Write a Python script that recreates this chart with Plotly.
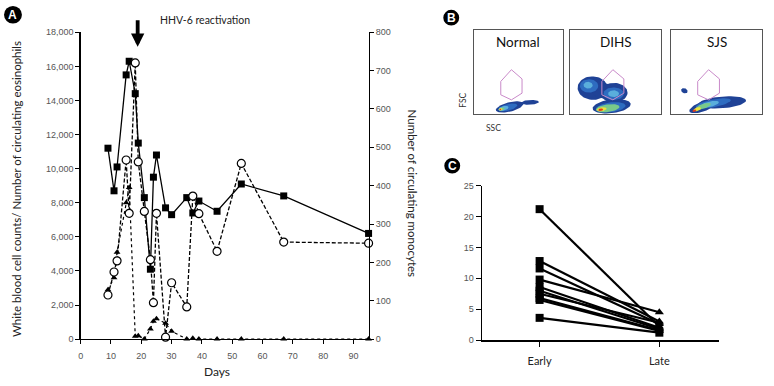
import numpy as np
import plotly.graph_objects as go

W, H = 774, 386

def px(x):
    return x / W

def py(y):
    return 1 - y / H

# ---------------- Panel A data ----------------
days = [9, 11, 12, 15, 16, 18, 19, 21, 23, 24, 25, 28, 30, 35, 37, 39, 45, 53, 67, 95]
wbc = [11200, 8700, 10100, 15500, 16300, 14400, 11500, 8300, 4100, 9500, 10800,
       7700, 7300, 8300, 7400, 8100, 7500, 9100, 8400, 6200]
eosinophils = [2900, 3600, 5100, 8000, 8900, 170, 200, 0, 600, 1050, 1200,
               930, 460, 0, 50, 0, 0, 0, 0, 0]
monocytes = [115, 175, 204, 467, 328, 720, 462, 333, 207, 95, 328,
             5, 147, 84, 373, 327, 229, 458, 253, 250]
x_ticks = list(range(0, 100, 10))
left_ticks = list(range(0, 18001, 2000))
right_ticks = list(range(0, 801, 100))
hhv6_day = 18.8

# ---------------- Panel C data ----------------
c_categories = ["Early", "Late"]
c_early = [21.2, 12.8, 11.6, 9.8, 8.6, 8.0, 7.5, 6.8, 6.5, 3.6]
c_late = [2.2, 3.0, 2.6, 4.5, 2.0, 1.8, 2.8, 1.6, 1.5, 1.2]
c_ticks = [0, 5, 10, 15, 20, 25]

# ---------------- Panel B (flow cytometry density sketches) ----------------
b_titles = ["Normal", "DIHS", "SJS"]
# density layers: (center SSC, center FSC, half-width, half-height, tilt deg, level)
b_density = [
    [(40, 8.5, 16, 5.5, 15, 0), (63, 14, 10, 2.8, 3, 0), (38, 8, 11, 3.8, 15, 1),
     (33, 6.8, 6, 2.6, 15, 2), (31, 6, 3.5, 1.8, 10, 3), (30, 5.7, 2.2, 1.3, 10, 4),
     (29.5, 5.5, 1.2, 0.9, 0, 5)],
    [(25, 31, 16.5, 14, -5, 0), (48, 25.6, 15, 11.6, 0, 0), (45.7, 9.3, 21, 8.1, 8, 0),
     (36, 28, 12, 9, 0, 0),
     (21, 33.7, 10, 8, 0, 1), (20, 34.5, 5, 4, 0, 2),
     (47.8, 24.4, 11, 7.5, 0, 1), (47.8, 24.4, 6, 4, 0, 2),
     (44.6, 8.1, 16.3, 5.8, 8, 1), (41.3, 7, 13, 4.6, 8, 3),
     (34.8, 5.8, 5.4, 2.3, 8, 4), (33.7, 5.2, 2.7, 1.5, 8, 5)],
    [(14.3, 27.9, 3.8, 2.9, -30, 0), (56, 14, 26.4, 7, 5, 0), (35.2, 9.3, 16.5, 5.8, 22, 0),
     (46.2, 12.8, 19.8, 4.6, 12, 1), (41.8, 11.6, 11, 3.2, 15, 2),
     (35.2, 9.3, 8.8, 2.9, 20, 3), (28.6, 5.8, 4.4, 2.1, 20, 4), (25.3, 4.1, 2.2, 1.4, 20, 5)],
]
gate_ssc = [42, 54, 54, 42, 30, 30, 42]
gate_fsc = [53, 42, 25, 17, 23, 39, 53]
gate_shift = [0, 5, -1]

density_colors = ["#1f4296", "#2e6cc0", "#5aaedc", "#79c98a", "#e9e23e", "#e23a1e"]

TICK_FONT = dict(family="Liberation Sans, Arial, sans-serif", size=9, color="#555555")
TITLE_FONT = dict(family="Lato, Open Sans, sans-serif", size=11.5, color="#222222")

fig = go.Figure()

# Panel A traces
fig.add_trace(go.Scatter(
    x=days, y=eosinophils, mode="lines+markers", xaxis="x", yaxis="y",
    line=dict(color="black", width=1.2, dash="dot"),
    marker=dict(symbol="triangle-up", size=6, color="black"),
    cliponaxis=False, showlegend=False))
fig.add_trace(go.Scatter(
    x=days, y=wbc, mode="lines+markers", xaxis="x", yaxis="y",
    line=dict(color="black", width=1.3),
    marker=dict(symbol="square", size=7, color="black"),
    cliponaxis=False, showlegend=False))
fig.add_trace(go.Scatter(
    x=days, y=monocytes, mode="lines+markers", xaxis="x", yaxis="y2",
    line=dict(color="black", width=1.3, dash="4px,2px"),
    marker=dict(symbol="circle", size=8, color="white", line=dict(color="black", width=1.2)),
    cliponaxis=False, showlegend=False))

# Panel C traces
for e, l in zip(c_early, c_late):
    fig.add_trace(go.Scatter(
        x=[0, 1], y=[e, l], mode="lines+markers", xaxis="x3", yaxis="y3",
        line=dict(color="black", width=2.2),
        marker=dict(symbol=["square", "triangle-up" if l > 1.3 else "square"], size=8, color="black"),
        cliponaxis=False, showlegend=False))

# Panel B traces
def ellipse(cx, cy, rx, ry, ang, n=60):
    t = np.linspace(0, 2 * np.pi, n)
    a = np.deg2rad(ang)
    x = cx + rx * np.cos(t) * np.cos(a) - ry * np.sin(t) * np.sin(a)
    y = cy + rx * np.cos(t) * np.sin(a) + ry * np.sin(t) * np.cos(a)
    return x, y

for i, layers in enumerate(b_density):
    xa, ya = f"x{4 + i}", f"y{4 + i}"
    for (cx, cy, rx, ry, ang, lev) in sorted(layers, key=lambda t: t[5]):
        ex, ey = ellipse(cx, cy, rx, ry, ang)
        fig.add_trace(go.Scatter(
            x=ex, y=ey, mode="lines", fill="toself", xaxis=xa, yaxis=ya,
            line=dict(width=0, color=density_colors[lev]),
            fillcolor=density_colors[lev], hoverinfo="skip", showlegend=False))
    fig.add_trace(go.Scatter(
        x=[g + gate_shift[i] for g in gate_ssc], y=gate_fsc, mode="lines",
        xaxis=xa, yaxis=ya, line=dict(color="#c98ac9", width=1),
        hoverinfo="skip", showlegend=False))

layout = dict(
    width=W, height=H, margin=dict(l=0, r=0, t=0, b=0),
    paper_bgcolor="white", plot_bgcolor="rgba(0,0,0,0)",
    xaxis=dict(domain=[px(78), px(367)], range=[0, 95], tickvals=x_ticks,
               ticks="outside", ticklen=4, tickcolor="black", showline=True,
               linecolor="black", linewidth=1.3, showgrid=False, zeroline=False,
               anchor="y", tickfont=TICK_FONT, ticklabelstandoff=4),
    yaxis=dict(domain=[py(343), py(28)], range=[0, 18000], tickvals=left_ticks,
               tickformat=",", ticks="outside", ticklen=4, tickcolor="black",
               showline=True, linecolor="black", linewidth=1.3, showgrid=False,
               zeroline=False, anchor="x", tickfont=TICK_FONT),
    yaxis2=dict(range=[0, 800], tickvals=right_ticks, overlaying="y", side="right",
                ticks="outside", ticklen=4, tickcolor="black", showline=True,
                linecolor="black", linewidth=1.3, showgrid=False, zeroline=False,
                anchor="x", tickfont=TICK_FONT),
    xaxis3=dict(domain=[px(481), px(719)], range=[-0.48, 1.5], tickvals=[0, 1],
                ticktext=c_categories, ticks="outside", ticklen=5, tickcolor="black",
                showline=True, linecolor="black", linewidth=1.6, showgrid=False,
                zeroline=False, anchor="y3", ticklabelstandoff=5,
                tickfont=dict(family="Lato, sans-serif", size=11, color="#222222")),
    yaxis3=dict(domain=[py(344), py(185.5)], range=[0, 25], tickvals=c_ticks,
                ticks="outside", ticklen=5, tickcolor="black", showline=True,
                linecolor="black", linewidth=1.6, showgrid=False, zeroline=False,
                anchor="x3", tickfont=TICK_FONT),
)

box_x = [(473, 562), (569, 661), (671, 762)]
for i, (l, r) in enumerate(box_x):
    layout[f"xaxis{4 + i}"] = dict(domain=[px(l), px(r)], range=[0, 100], showline=True,
                                   mirror=True, linecolor="#555555", linewidth=1,
                                   showticklabels=False, ticks="", showgrid=False,
                                   zeroline=False, anchor=f"y{4 + i}", fixedrange=True)
    layout[f"yaxis{4 + i}"] = dict(domain=[py(112), py(26)], range=[0, 100], showline=True,
                                   mirror=True, linecolor="#555555", linewidth=1,
                                   showticklabels=False, ticks="", showgrid=False,
                                   zeroline=False, anchor=f"x{4 + i}", fixedrange=True)
fig.update_layout(**layout)

ann = []
shapes = []
# panel letters
for letter, cx, cy, r in [("A", 10, 10, 9), ("B", 450, 13, 8), ("C", 451, 165, 8)]:
    shapes.append(dict(type="circle", xref="paper", yref="paper",
                       x0=px(cx - r), x1=px(cx + r), y0=py(cy + r), y1=py(cy - r),
                       fillcolor="black", line=dict(width=0)))
    ann.append(dict(text=f"<b>{letter}</b>", x=px(cx), y=py(cy), xref="paper", yref="paper",
                    showarrow=False, font=dict(family="Liberation Sans, Arial", size=12, color="white"),
                    xanchor="center", yanchor="middle"))

ann.append(dict(text="White blood cell counts/ Number of circulating eosinophils",
                x=px(13), y=py(189), xref="paper", yref="paper", textangle=-90,
                showarrow=False, font=TITLE_FONT, xanchor="center", yanchor="middle"))
ann.append(dict(text="Number of circulating monocytes",
                x=px(412), y=py(193), xref="paper", yref="paper", textangle=90,
                showarrow=False, font=TITLE_FONT, xanchor="center", yanchor="middle"))
ann.append(dict(text="Days", x=px(215), y=py(376), xref="paper", yref="paper",
                showarrow=False, font=dict(family="Lato, sans-serif", size=12, color="#222222"),
                xanchor="center", yanchor="middle"))
ann.append(dict(text="HHV-6 reactivation", x=px(156), y=py(15), xref="paper", yref="paper",
                showarrow=False, font=dict(family="Lato, sans-serif", size=10.5, color="#222222"),
                xanchor="left", yanchor="middle"))
ann.append(dict(text="", x=hhv6_day, y=17150, xref="x", yref="y", ax=0, ay=-28,
                showarrow=True, arrowhead=2, arrowsize=0.7, arrowwidth=3.8, arrowcolor="black"))

for i, (l, r) in enumerate(box_x):
    ann.append(dict(text=b_titles[i], x=px((l + r) / 2), y=py(38), xref="paper", yref="paper",
                    showarrow=False, font=dict(family="Lato, sans-serif", size=13.5, color="#111111"),
                    xanchor="center", yanchor="middle"))
ann.append(dict(text="FSC", x=px(462), y=py(98), xref="paper", yref="paper", textangle=-90,
                showarrow=False, font=dict(family="Lato, sans-serif", size=8.5, color="#333333"),
                xanchor="center", yanchor="middle"))
ann.append(dict(text="SSC", x=px(492), y=py(126), xref="paper", yref="paper",
                showarrow=False, font=dict(family="Lato, sans-serif", size=8.5, color="#333333"),
                xanchor="center", yanchor="middle"))

fig.update_layout(annotations=ann, shapes=shapes)
fig.write_html(
    "out.html",
    config={"displayModeBar": False, "staticPlot": True},
    post_script="document.body.style.margin='0';document.body.style.padding='0';"
                "document.body.style.overflow='hidden';",
)
